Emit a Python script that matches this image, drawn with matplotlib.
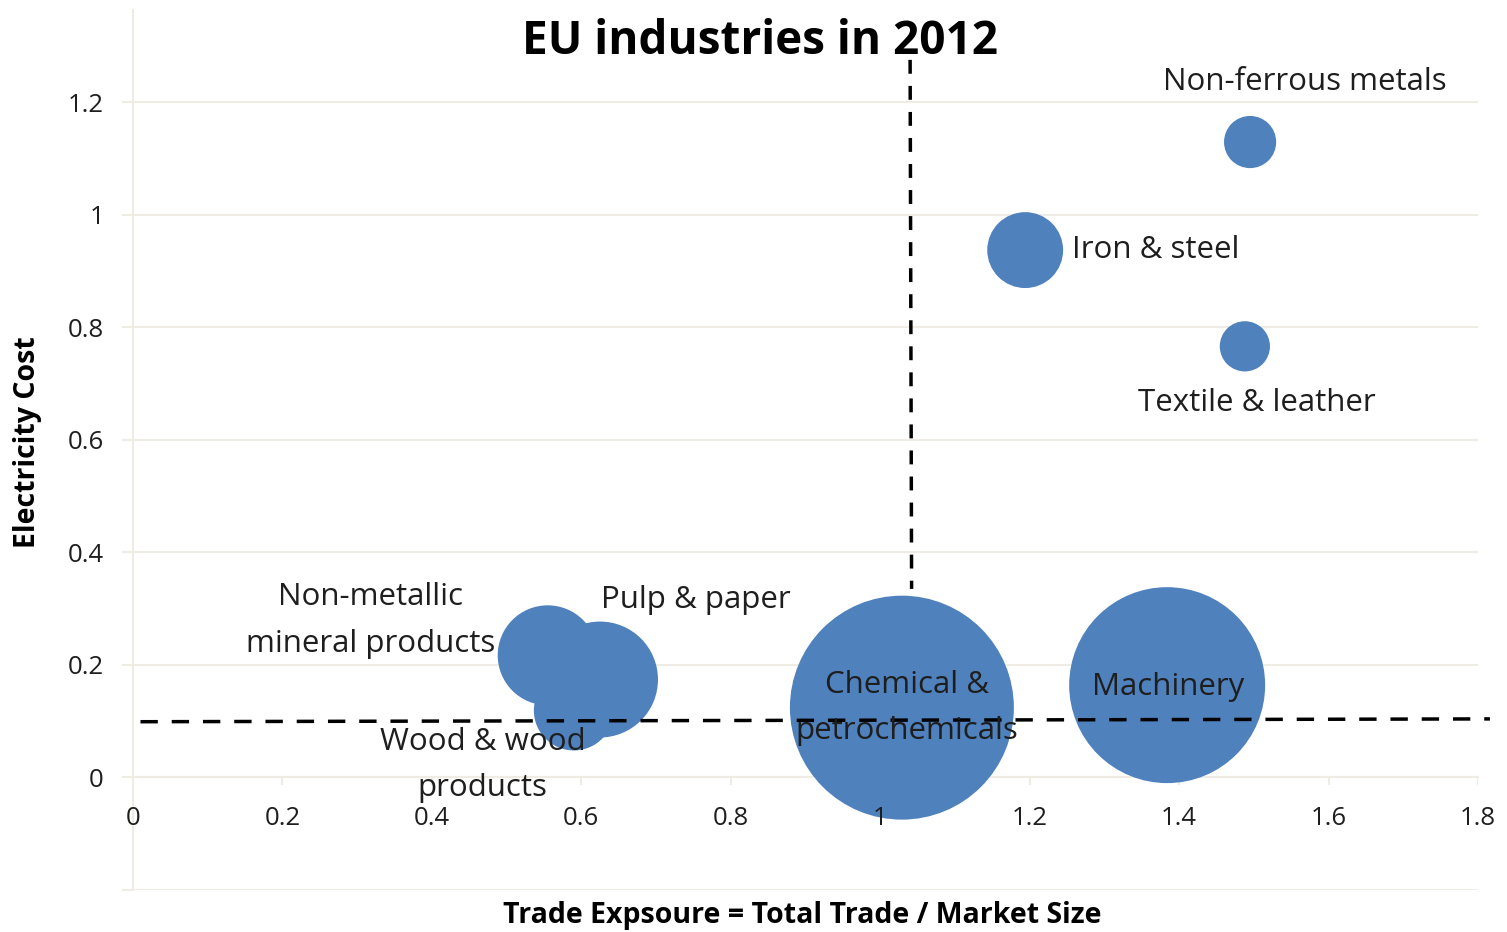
import numpy as np
import matplotlib
matplotlib.use("Agg")
import matplotlib.pyplot as plt

plt.rcParams['font.family'] = ['Open Sans', 'DejaVu Sans']

# industry data
industries = [
    "Non-ferrous metals", "Iron & steel", "Textile & leather",
    "Wood & wood\nproducts", "Non-metallic\nmineral products",
    "Pulp & paper", "Chemical &\npetrochemicals", "Machinery",
]
trade_exposure = [1.495, 1.194, 1.488, 0.59, 0.555, 0.625, 1.029, 1.384]
electricity_cost = [1.129, 0.937, 0.766, 0.119, 0.217, 0.174, 0.124, 0.164]
bubble_size = [6.8, 14.4, 6.3, 16.0, 25.0, 33.6, 125.4, 96.0]

# label anchor points (data coords) and alignment
label_x = [1.568, 1.257, 1.504, 0.468, 0.318, 0.753, 1.036, 1.385]
label_y = [1.236, 0.937, 0.666, 0.022, 0.279, 0.316, 0.123, 0.160]
label_ha = ["center", "left", "center", "center", "center", "center",
            "center", "center"]

ytick_vals = [-0.2, 0, 0.2, 0.4, 0.6, 0.8, 1, 1.2]
ytick_text = ["", "0", "0.2", "0.4", "0.6", "0.8", "1", "1.2"]
xtick_vals = [0, 0.2, 0.4, 0.6, 0.8, 1, 1.2, 1.4, 1.6, 1.8]
xtick_text = ["0", "0.2", "0.4", "0.6", "0.8", "1", "1.2", "1.4", "1.6", "1.8"]

cost_threshold = [0.099, 0.104]
exposure_threshold = 1.04

BLUE = "#4f81bd"
GRID = "#eeece4"
TEXT = "#1e1e1e"

fig = plt.figure(figsize=(15.07, 9.32), dpi=100)
ax = fig.add_axes([133 / 1507, 42 / 932, (1478 - 133) / 1507, 880 / 932])
ax.set_xlim(0, 1.8)
ax.set_ylim(-0.2, 1.3636)

for s in ["top", "right"]:
    ax.spines[s].set_visible(False)
ax.spines["left"].set_color(GRID)
ax.spines["left"].set_linewidth(1.5)
ax.spines["left"].set_zorder(0.3)
ax.spines["bottom"].set_position(("data", 0))
ax.spines["bottom"].set_color(GRID)
ax.spines["bottom"].set_linewidth(1.5)
ax.spines["bottom"].set_zorder(0.3)

ax.set_yticks(ytick_vals)
ax.set_yticklabels(ytick_text)
ax.set_xticks(xtick_vals)
ax.set_xticklabels(xtick_text)
ax.tick_params(axis="y", length=8, width=1.5, color=GRID, pad=13,
               labelsize=18.5, labelcolor=TEXT)
ax.tick_params(axis="x", length=0, pad=20.5,
               labelsize=18.5, labelcolor=TEXT)
# gridlines and x tick marks under the bubbles, tick labels above them
for yv in ytick_vals:
    ax.axhline(yv, color=GRID, linewidth=1.5, zorder=0.5)
ax.vlines(xtick_vals, 0, -0.0142, color=GRID, linewidth=1.5, zorder=0.5)
ax.set_axisbelow(False)

# bubble area proportional to size, radius px = 10*sqrt(size)
s_pts = [207.36 * v for v in bubble_size]
ax.scatter(trade_exposure, electricity_cost, s=s_pts, color=BLUE,
           edgecolors="none", zorder=2)

ax.plot([0.01, 1.816], cost_threshold, ls=(0, (5, 4)), color="black",
        lw=2.5, zorder=4, clip_on=False)
ax.plot([exposure_threshold, exposure_threshold + 0.002], [1.275, 0.335],
        ls=(0, (4, 3.5)), color="black", lw=2.5, zorder=1.5, clip_on=False)

for name, lx, ly, ha in zip(industries, label_x, label_y, label_ha):
    ax.text(lx, ly, name, ha=ha, va="center", fontsize=22.5, color=TEXT,
            linespacing=1.72, zorder=5)

fig.text(760 / 1507, 1 - 41 / 932, "EU industries in 2012", ha="center",
         va="center", fontsize=33, fontweight="bold", color="black")
fig.text(802 / 1507, 1 - 915 / 932, "Trade Expsoure = Total Trade / Market Size",
         ha="center", va="center", fontsize=20.5, fontweight="bold", color="black")
fig.text(28 / 1507, 1 - 442 / 932, "Electricity Cost", ha="center",
         va="center", rotation=90, fontsize=20.5, fontweight="bold", color="black")

fig.savefig("out.png", dpi=100)
